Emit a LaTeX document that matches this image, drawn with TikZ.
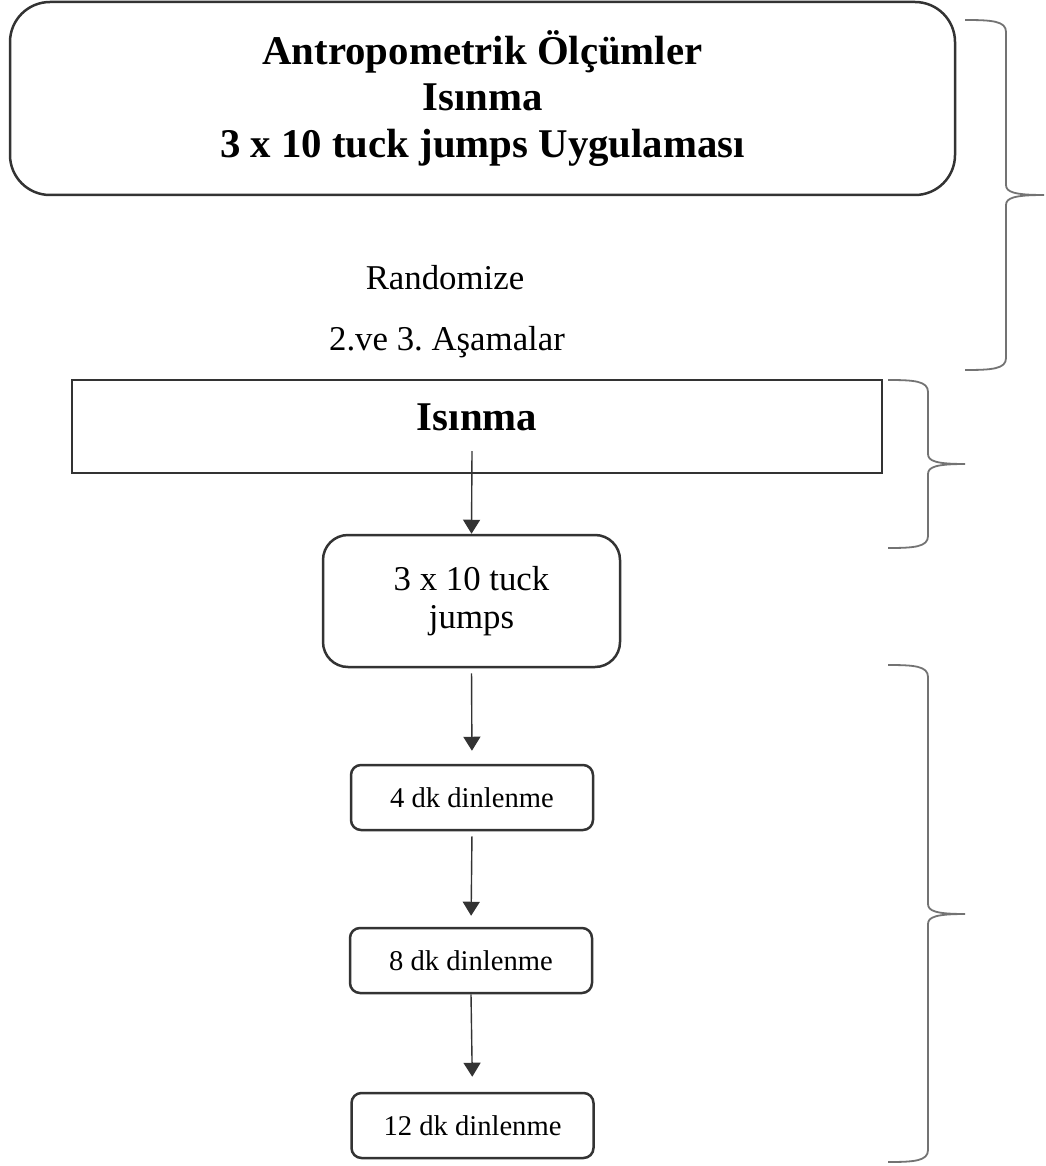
\documentclass[tikz,border=0pt]{standalone}
\usepackage{fontspec}
\setmainfont{Liberation Serif}
\usetikzlibrary{arrows.meta}
\frenchspacing

\begin{document}
\begin{tikzpicture}[x=0.5pt,y=-0.5pt,line width=1.2pt,>=Stealth,
  box/.style={draw=black!80,line width=1.25pt,inner sep=0pt,align=center},
  restbox/.style={box,rounded corners=5pt,minimum width=121pt,minimum height=32.5pt,
    font=\fontsize{14.3}{16}\selectfont},
  varr/.style={->,line width=0.7pt,draw=black!80,>={Triangle[length=7pt,width=8.5pt]}},
  brace/.style={draw=black!55,line width=0.9pt}]
\useasboundingbox (0,0) rectangle (1045,1166);
% first stage
\node[box,rounded corners=20pt,minimum width=472.5pt,minimum height=96.5pt,
  font=\bfseries\fontsize{20.4}{23.3}\selectfont] (olcum) at (482.5,98.5)
  {Antropometrik Ölçümler\\Isınma\\3 x 10 tuck jumps Uygulaması};
\node[anchor=base,font=\fontsize{17.4}{19}\selectfont] (rand) at (445,289) {Randomize};
\node[anchor=base,font=\fontsize{17.4}{19}\selectfont] (asama) at (447,350) {2.ve 3. Aşamalar};
% warm-up and jumps
\node[box,minimum width=405pt,text height=25pt,text depth=21.5pt,
  font=\bfseries\fontsize{20.4}{23.3}\selectfont] (isinma) at (477,426.5) {Isınma};
\coordinate (isS) at (472,451);
\node[box,rounded corners=12.5pt,minimum width=148.5pt,minimum height=66pt,
  font=\fontsize{17.4}{19}\selectfont] (tuck) at (471.5,601) {3 x 10 tuck\\jumps};
% rest periods
\node[restbox] (d4) at (472,797.5) {4 dk dinlenme};
\node[restbox] (d8) at (471,960.5) {8 dk dinlenme};
\node[restbox] (d12) at (472.5,1125.5) {12 dk dinlenme};
% arrows
\draw[varr] (isS) -- (tuck.north);
\draw[varr,shorten <=2.5pt,shorten >=6.5pt] (tuck.south) -- (d4.north);
\draw[varr,shorten <=2.5pt,shorten >=5.5pt] (d4.south) -- (d8.north);
\draw[varr,shorten >=7.5pt] (d8.south) -- (d12.north);
% braces
\foreach \xl/\xs/\xt/\yt/\ym/\yb in {965/1006/1044/20/195/370,
    888/928/965/380/464/548, 888/928/965/665/914/1162}
  \draw[brace] (\xl,\yt) .. controls (\xs-14,\yt) and (\xs,\yt+1) .. (\xs,\yt+12)
    -- (\xs,\ym-10) .. controls (\xs,\ym-3) and (\xs+8,\ym) .. (\xt,\ym)
    .. controls (\xs+8,\ym) and (\xs,\ym+3) .. (\xs,\ym+10)
    -- (\xs,\yb-12) .. controls (\xs,\yb-1) and (\xs-14,\yb) .. (\xl,\yb);
\end{tikzpicture}
\end{document}
